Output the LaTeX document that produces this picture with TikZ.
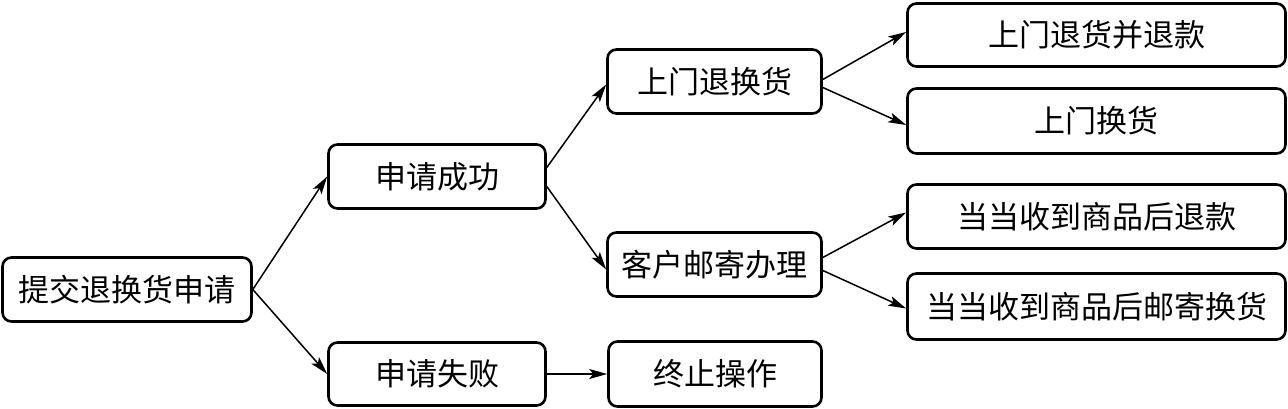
\documentclass[tikz,border=0pt]{standalone}
\usepackage{fontspec}
\newfontfamily\cjk{Noto Sans CJK SC}
\usetikzlibrary{arrows.meta}
\begin{document}
\begin{tikzpicture}[x=1pt,y=-1pt,
  box/.style={draw, line width=2.6pt, rounded corners=9pt, minimum height=64pt, inner sep=0pt,
    font=\cjk\fontsize{31}{36}\selectfont},
  arr/.style={line width=1.5pt, -{Stealth[length=18pt,width=10pt,inset=4pt]}}]
\useasboundingbox (0,0) rectangle (1288,409);
\fill[white] (0,0) rectangle (1288,409);
\node[box, minimum width=249pt] (a) at (127,289.5) {提交退换货申请};
\node[box, minimum width=217pt] (b) at (437,176.5) {申请成功};
\node[box, minimum width=217pt, minimum height=63pt] (c) at (437,374) {申请失败};
\node[box, minimum width=214pt] (d) at (714.5,81.5) {上门退换货};
\node[box, minimum width=214pt] (e) at (714.5,264.5) {客户邮寄办理};
\node[box, minimum width=213pt, minimum height=65pt] (f) at (715,374) {终止操作};
\node[box, minimum width=378pt, minimum height=63pt] (g) at (1096.5,35) {上门退货并退款};
\node[box, minimum width=378pt, minimum height=65pt] (h) at (1096.5,121) {上门换货};
\node[box, minimum width=378pt] (i) at (1096.5,216.5) {当当收到商品后退款};
\node[box, minimum width=378pt, minimum height=66pt] (j) at (1096.5,306.5) {当当收到商品后邮寄换货};
\draw[arr] (a.east) -- (b.west);
\draw[arr] (a.east) -- (c.west);
\draw[arr] ([yshift=9pt]b.east) -- ([yshift=-3pt]d.west);
\draw[arr] ([yshift=-10pt]b.east) -- ([yshift=-5pt]e.west);
\draw[arr] (c.east) -- (f.west);
\draw[arr] ([yshift=2pt]d.east) -- ([yshift=3pt]g.west);
\draw[arr] ([yshift=-6pt]d.east) -- ([yshift=-4pt]h.west);
\draw[arr] ([yshift=7pt]e.east) -- ([yshift=4pt]i.west);
\draw[arr] ([yshift=-6pt]e.east) -- ([yshift=-2pt]j.west);
\end{tikzpicture}
\end{document}
